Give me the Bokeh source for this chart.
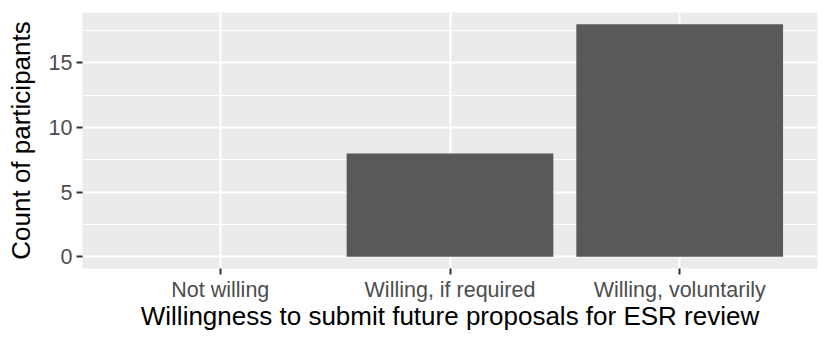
from bokeh.plotting import figure
from bokeh.models import FactorRange, Range1d, FixedTicker, ColumnDataSource
from bokeh.embed import file_html
from bokeh.resources import INLINE

categories = ["Not willing", "Willing, if required", "Willing, voluntarily"]
counts = [0, 8, 18]
y_ticks = [0, 5, 10, 15]
y_minor = [2.5, 7.5, 12.5, 17.5]

FONT = "Liberation Sans"

src = ColumnDataSource(dict(cat=categories, n=counts))

p = figure(
    width=830, height=345,
    x_range=FactorRange(factors=categories, range_padding=0.1, range_padding_units="absolute"),
    y_range=Range1d(-0.9, 18.9),
    output_backend="svg", toolbar_location=None,
    min_border_left=82, min_border_right=13, min_border_top=12, min_border_bottom=77,
)
p.background_fill_color = "#EBEBEB"
p.border_fill_color = "white"
p.outline_line_color = None

p.vbar(x="cat", top="n", bottom=0, width=0.9, source=src, fill_color="#595959", line_color=None)

p.yaxis.ticker = FixedTicker(ticks=y_ticks, minor_ticks=y_minor)

for g in (p.xgrid, p.ygrid):
    g.grid_line_color = "white"
    g.grid_line_width = 2
p.ygrid.minor_grid_line_color = "white"
p.ygrid.minor_grid_line_width = 1

for ax in (p.xaxis, p.yaxis):
    ax.axis_line_color = None
    ax.major_tick_line_color = "#333333"
    ax.major_tick_line_width = 2
    ax.major_tick_out = 6
    ax.major_tick_in = 0
    ax.minor_tick_line_color = None
    ax.major_label_text_font = FONT
    ax.major_label_text_font_size = "21.5px"
    ax.major_label_text_color = "#4D4D4D"
    ax.major_label_standoff = 4
    ax.axis_label_text_font = FONT
    ax.axis_label_text_font_size = "26px"
    ax.axis_label_text_font_style = "normal"
    ax.axis_label_text_color = "black"

p.xaxis.axis_label = "Willingness to submit future proposals for ESR review"
p.yaxis.axis_label = "Count of participants"
p.xaxis.major_label_standoff = 3
p.xaxis.axis_label_standoff = -4
p.yaxis.axis_label_standoff = 10

open("out.html", "w").write(file_html(p, INLINE))
